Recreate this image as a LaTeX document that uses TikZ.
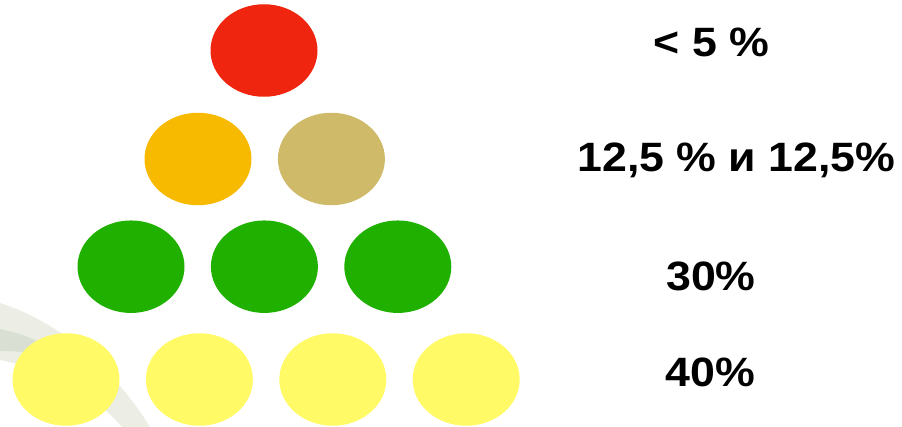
\documentclass[tikz,border=0pt]{standalone}
\usepackage{fontspec}
\setmainfont{Liberation Sans}
\usetikzlibrary{positioning,shapes.geometric}
\definecolor{dotred}{HTML}{EF2510}
\definecolor{dotorange}{HTML}{F8BA00}
\definecolor{dottan}{HTML}{CFBA69}
\definecolor{dotgreen}{HTML}{1FB000}
\definecolor{dotyellow}{HTML}{FFFA66}
\definecolor{swooshlight}{HTML}{ECEEE6}
\definecolor{swooshdark}{HTML}{D9E0D3}

\begin{document}
\begin{tikzpicture}[x=1pt, y=-1pt,
  dot/.style={ellipse, minimum width=107pt, minimum height=92.5pt,
    inner sep=0pt},
  share/.style={font=\fontsize{41}{44}\selectfont\bfseries,
    inner sep=0pt, anchor=base, xscale=1.09},
  node distance=26pt]
  \useasboundingbox (0,0) rectangle (902,427);
  % faint background swoosh
  \fill[swooshlight] (0,303) .. controls (60,322) and (115,370) .. (150,427)
    -- (122,427) .. controls (85,385) and (40,368) .. (0,360) -- cycle;
  \fill[swooshdark] (0,329) .. controls (25,334) and (50,345) .. (75,362)
    .. controls (50,355) and (25,351) .. (0,351) -- cycle;
  % pyramid of dots
  \node[dot, fill=dotred] (top) at (264,50.5) {};
  \node[dot, fill=dotorange] (orange) at (198,159) {};
  \node[dot, fill=dottan, right=of orange] (tan) {};
  \node[dot, fill=dotgreen] (greenA) at (131,266.7) {};
  \node[dot, fill=dotgreen, right=of greenA] (greenB) {};
  \node[dot, fill=dotgreen, right=of greenB] (greenC) {};
  \node[dot, fill=dotyellow] (yellowA) at (66,379.5) {};
  \node[dot, fill=dotyellow, right=of yellowA] (yellowB) {};
  \node[dot, fill=dotyellow, right=of yellowB] (yellowC) {};
  \node[dot, fill=dotyellow, right=of yellowC] (yellowD) {};
  % shares
  \node[share] (lblTop) at (711.5,57) {< 5 \%};
  \node[share] (lblTwo) at (736.5,171.5) {12,5 \% и 12,5\%};
  \node[share] (lblThree) at (711,291) {30\%};
  \node[share] (lblFour) at (710.5,387) {40\%};
\end{tikzpicture}
\end{document}
